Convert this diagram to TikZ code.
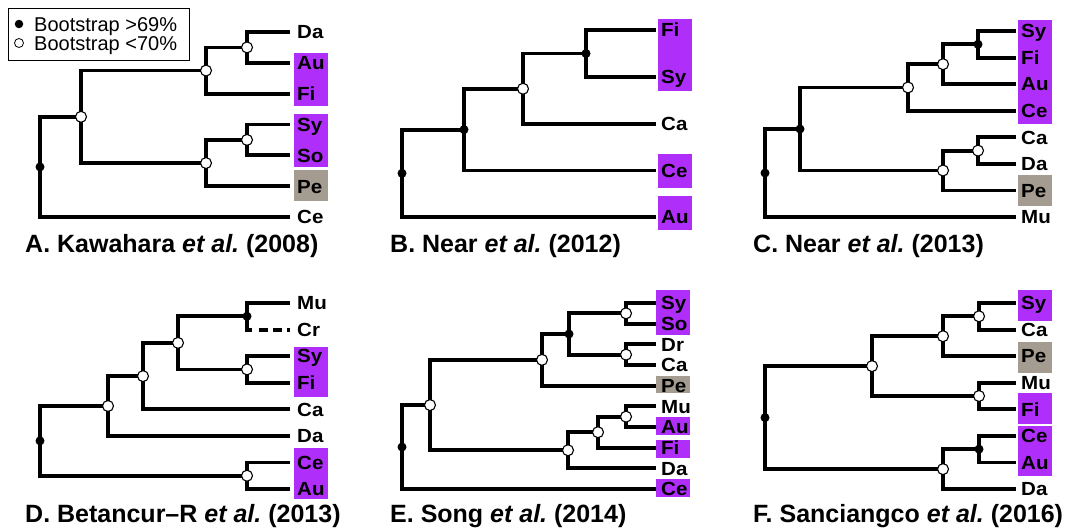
\documentclass[tikz,border=0pt]{standalone}
\usepackage{fontspec}
\setmainfont{Liberation Sans}
\newfontfamily\lblfam[FakeStretch=1.08]{Liberation Sans}
\usetikzlibrary{calc}
\frenchspacing
\definecolor{pur}{RGB}{176,46,250}
\definecolor{pecol}{RGB}{164,156,144}
\tikzset{
  br/.style={line width=3.8pt},
  opennode/.style={circle, draw=black, fill=white, line width=1.1pt, minimum size=11pt, inner sep=0pt},
  fullnode/.style={circle, fill=black, minimum size=9pt, inner sep=0pt},
  lbl/.style={anchor=base west, inner sep=0pt, font=\lblfam\fontsize{19}{21}\selectfont\bfseries},
  ttl/.style={anchor=base west, inner sep=0pt, font=\frenchspacing\fontsize{25}{30}\selectfont\bfseries},
  legtxt/.style={anchor=base west, inner sep=0pt, font=\fontsize{20}{24}\selectfont},
  purbox/.style={fill=pur},
  pebox/.style={fill=pecol},
}
\newcommand{\leaf}[5]{\coordinate (#1) at (#2,#3); \node[lbl] (#1t) at (#4,#3+6.8) {#5};}
\newcommand{\jn}[3]{\draw[br] (#2) -| (#1) |- (#3);}
\newcommand{\ocirc}[1]{\node[opennode] (#1c) at (#1) {};}
\newcommand{\fcirc}[1]{\node[fullnode] (#1c) at (#1) {};}
\begin{document}
\begin{tikzpicture}[x=1pt,y=-1pt]
\useasboundingbox (0,0) rectangle (1070,530);
\fill[white] (0,0) rectangle (1070,530);

% ---------- colour boxes ----------
\fill[purbox] (294,53) rectangle (328,106);
\fill[purbox] (294,114) rectangle (328,167);
\fill[pebox] (294,170) rectangle (328,201);
\fill[purbox] (658,19) rectangle (692,91);
\fill[purbox] (658,154) rectangle (692,188);
\fill[purbox] (658,196) rectangle (692,230);
\fill[purbox] (1018,20) rectangle (1052,124);
\fill[pebox] (1018,175) rectangle (1052,206);
\fill[purbox] (294,347) rectangle (328,397);
\fill[purbox] (294,448) rectangle (328,499);
\fill[purbox] (656,290) rectangle (690,335);
\fill[pebox] (656,376) rectangle (690,393);
\fill[purbox] (656,417) rectangle (690,435);
\fill[purbox] (656,440) rectangle (690,458);
\fill[purbox] (656,479) rectangle (690,497);
\fill[purbox] (1018,290) rectangle (1052,321);
\fill[pebox] (1018,342) rectangle (1052,373);
\fill[purbox] (1018,393) rectangle (1052,424);
\fill[purbox] (1018,426) rectangle (1052,476);

% ---------- legend ----------
\node[draw=black, line width=1pt, minimum width=180.7pt, minimum height=51.7pt, inner sep=0pt, anchor=north west] (legend) at (8.3,8.3) {};
\node[fullnode, minimum size=8.5pt] (legf) at (19,24) {};
\node[opennode, minimum size=9pt, line width=0.8pt] (lego) at (19,43) {};
\node[legtxt] (legft) at (34,31) {Bootstrap >69\%};
\node[legtxt] (legot) at (34,50) {Bootstrap <70\%};

% ---------- Panel A ----------
\leaf{aDa}{290}{32}{297}{Da}
\leaf{aAu}{290}{62.8}{297}{Au}
\leaf{aFi}{290}{93.7}{297}{Fi}
\leaf{aSy}{290}{124.5}{297}{Sy}
\leaf{aSo}{290}{155.3}{297}{So}
\leaf{aPe}{290}{186.2}{297}{Pe}
\leaf{aCe}{290}{217}{297}{Ce}
\coordinate (a1) at (247,47.4);
\coordinate (a2) at (206,70.55);
\coordinate (a3) at (247,139.9);
\coordinate (a4) at (206,163.05);
\coordinate (a5) at (81,116.8);
\coordinate (a0) at (40,166.9);
\jn{a1}{aDa}{aAu}
\jn{a2}{a1}{aFi}
\jn{a3}{aSy}{aSo}
\jn{a4}{a3}{aPe}
\jn{a5}{a2}{a4}
\jn{a0}{a5}{aCe}
\ocirc{a1}\ocirc{a2}\ocirc{a3}\ocirc{a4}\ocirc{a5}\fcirc{a0}
\node[ttl] (ta) at (25,252) {A. Kawahara \textit{et al.} (2008)};

% ---------- Panel B ----------
\leaf{bFi}{656}{30}{661}{Fi}
\leaf{bSy}{656}{77}{661}{Sy}
\leaf{bCa}{656}{124}{661}{Ca}
\leaf{bCe}{656}{170.5}{661}{Ce}
\leaf{bAu}{656}{217}{661}{Au}
\coordinate (b1) at (586,53.5);
\coordinate (b2) at (523,88.75);
\coordinate (b3) at (464,129.6);
\coordinate (b0) at (402,173.3);
\jn{b1}{bFi}{bSy}
\jn{b2}{b1}{bCa}
\jn{b3}{b2}{bCe}
\jn{b0}{b3}{bAu}
\fcirc{b1}\ocirc{b2}\fcirc{b3}\fcirc{b0}
\node[ttl] (tb) at (390,252) {B. Near \textit{et al.} (2012)};

% ---------- Panel C ----------
\leaf{cSy}{1016}{31}{1021}{Sy}
\leaf{cFi}{1016}{57.6}{1021}{Fi}
\leaf{cAu}{1016}{84.1}{1021}{Au}
\leaf{cCe}{1016}{110.7}{1021}{Ce}
\leaf{cCa}{1016}{137.3}{1021}{Ca}
\leaf{cDa}{1016}{163.9}{1021}{Da}
\leaf{cPe}{1016}{190.4}{1021}{Pe}
\leaf{cMu}{1016}{217}{1021}{Mu}
\coordinate (c1) at (978,44.3);
\coordinate (c2) at (943,64.2);
\coordinate (c3) at (908,87.45);
\coordinate (c4) at (978,150.6);
\coordinate (c5) at (943,170.5);
\coordinate (c6) at (800,129);
\coordinate (c0) at (765,173);
\jn{c1}{cSy}{cFi}
\jn{c2}{c1}{cAu}
\jn{c3}{c2}{cCe}
\jn{c4}{cCa}{cDa}
\jn{c5}{c4}{cPe}
\jn{c6}{c3}{c5}
\jn{c0}{c6}{cMu}
\fcirc{c1}\ocirc{c2}\ocirc{c3}\ocirc{c4}\ocirc{c5}\fcirc{c6}\fcirc{c0}
\node[ttl] (tc) at (753,252) {C. Near \textit{et al.} (2013)};

% ---------- Panel D ----------
\leaf{dMu}{290}{303}{297}{Mu}
\leaf{dCr}{290}{329.6}{297}{Cr}
\leaf{dSy}{290}{356.1}{297}{Sy}
\leaf{dFi}{290}{382.7}{297}{Fi}
\leaf{dCa}{290}{409.3}{297}{Ca}
\leaf{dDa}{290}{435.9}{297}{Da}
\leaf{dCe}{290}{462.4}{297}{Ce}
\leaf{dAu}{290}{489}{297}{Au}
\coordinate (d1) at (247,316.3);
\coordinate (d2) at (247,369.4);
\coordinate (d3) at (178,342.85);
\coordinate (d4) at (143,376.1);
\coordinate (d5) at (108,406);
\coordinate (d6) at (247,475.7);
\coordinate (d0) at (40,440.85);
\draw[br] (dMu) -| (d1) |- ($(d1 |- dCr)+(5,0)$);
\draw[br, dash pattern=on 9pt off 5pt] ($(d1 |- dCr)+(12,0)$) -- (dCr);
\jn{d2}{dSy}{dFi}
\jn{d3}{d1}{d2}
\jn{d4}{d3}{dCa}
\jn{d5}{d4}{dDa}
\jn{d6}{dCe}{dAu}
\jn{d0}{d5}{d6}
\fcirc{d1}\ocirc{d2}\ocirc{d3}\ocirc{d4}\ocirc{d5}\ocirc{d6}\fcirc{d0}
\node[ttl] (td) at (25,522) {D. Betancur--R \textit{et al.} (2013)};

% ---------- Panel E ----------
\leaf{eSy}{656}{303}{661}{Sy}
\leaf{eSo}{656}{323.7}{661}{So}
\leaf{eDr}{656}{344.3}{661}{Dr}
\leaf{eCa}{656}{365}{661}{Ca}
\leaf{ePe}{656}{385.7}{661}{Pe}
\leaf{eMu}{656}{406.3}{661}{Mu}
\leaf{eAu}{656}{427}{661}{Au}
\leaf{eFi}{656}{447.7}{661}{Fi}
\leaf{eDa}{656}{468.3}{661}{Da}
\leaf{eCe}{656}{489}{661}{Ce}
\coordinate (e1) at (626,313.35);
\coordinate (e2) at (626,354.65);
\coordinate (e3) at (569,334);
\coordinate (e4) at (542,359.85);
\coordinate (e5) at (626,416.65);
\coordinate (e6) at (598,432.2);
\coordinate (e7) at (568,450.25);
\coordinate (e8) at (430,405.05);
\coordinate (e0) at (402,447);
\jn{e1}{eSy}{eSo}
\jn{e2}{eDr}{eCa}
\jn{e3}{e1}{e2}
\jn{e4}{e3}{ePe}
\jn{e5}{eMu}{eAu}
\jn{e6}{e5}{eFi}
\jn{e7}{e6}{eDa}
\jn{e8}{e4}{e7}
\jn{e0}{e8}{eCe}
\ocirc{e1}\ocirc{e2}\fcirc{e3}\ocirc{e4}\ocirc{e5}\ocirc{e6}\ocirc{e7}\ocirc{e8}\fcirc{e0}
\node[ttl] (te) at (390,522) {E. Song \textit{et al.} (2014)};

% ---------- Panel F ----------
\leaf{fSy}{1016}{303}{1021}{Sy}
\leaf{fCa}{1016}{329.6}{1021}{Ca}
\leaf{fPe}{1016}{356.1}{1021}{Pe}
\leaf{fMu}{1016}{382.7}{1021}{Mu}
\leaf{fFi}{1016}{409.3}{1021}{Fi}
\leaf{fCe}{1016}{435.9}{1021}{Ce}
\leaf{fAu}{1016}{462.4}{1021}{Au}
\leaf{fDa}{1016}{489}{1021}{Da}
\coordinate (f1) at (979,316.3);
\coordinate (f2) at (943,336.2);
\coordinate (f3) at (979,396);
\coordinate (f4) at (872,366.1);
\coordinate (f5) at (979,449.15);
\coordinate (f6) at (943,469.1);
\coordinate (f0) at (765,417.6);
\jn{f1}{fSy}{fCa}
\jn{f2}{f1}{fPe}
\jn{f3}{fMu}{fFi}
\jn{f4}{f2}{f3}
\jn{f5}{fCe}{fAu}
\jn{f6}{f5}{fDa}
\jn{f0}{f4}{f6}
\ocirc{f1}\ocirc{f2}\ocirc{f3}\ocirc{f4}\fcirc{f5}\ocirc{f6}\fcirc{f0}
\node[ttl] (tf) at (753,522) {F. Sanciangco \textit{et al.} (2016)};
\end{tikzpicture}
\end{document}
